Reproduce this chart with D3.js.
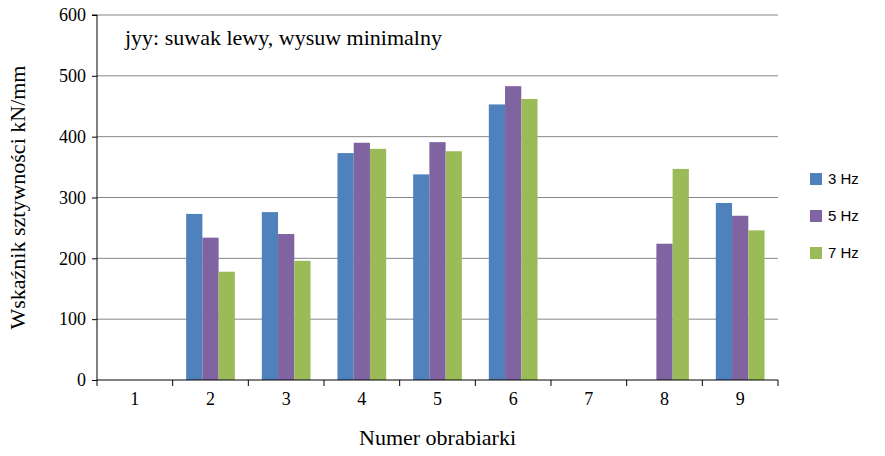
<!DOCTYPE html>
<html><head><meta charset="utf-8">
<script src="https://cdn.jsdelivr.net/npm/d3@7"></script>
<style>body{margin:0;background:#fff}</style></head>
<body><svg id="c" width="885" height="456"></svg>
<script>
const categories = ["1","2","3","4","5","6","7","8","9"];
const seriesNames = ["3 Hz","5 Hz","7 Hz"];
const hz3 = [0,273,276,373,338,453,0,0,291];
const hz5 = [0,234,240,390,391,483,0,224,270];
const hz7 = [0,178,196,380,376,462,0,347,246];
const yTicks = [0,100,200,300,400,500,600];
const colors = ["#4F81BD","#8064A2","#9BBB59"];
const series = [hz3,hz5,hz7];

const svg = d3.select("#c");
const L=97,R=778,T=15,B=380;
const x = d3.scaleBand().domain(categories).range([L,R]);
const xi = d3.scaleBand().domain([0,1,2]).range([0,x.bandwidth()]).paddingInner(0).paddingOuter(0.83);
const y = d3.scaleLinear().domain([0,600]).range([B,T]);

svg.append("g").selectAll("line").data(yTicks.slice(1)).join("line")
 .attr("x1",L).attr("x2",R).attr("y1",d=>y(d)).attr("y2",d=>y(d)).attr("stroke","#868686").attr("stroke-width",1);

series.forEach((s,si)=>{
 svg.append("g").selectAll("rect").data(s).join("rect")
  .attr("x",(d,i)=>x(categories[i])+xi(si)).attr("width",xi.bandwidth())
  .attr("y",d=>y(d)).attr("height",d=>B-y(d)).attr("fill",colors[si]);
});

const ya = svg.append("g").attr("transform",`translate(${L},0)`).call(d3.axisLeft(y).tickValues(yTicks).tickSize(5).tickPadding(6));
ya.selectAll("text").attr("font-family","Liberation Serif").attr("font-size",18).attr("fill","#000");
ya.select(".domain").attr("d",`M-5,${T}H0V${B}`).attr("stroke","#000");
ya.selectAll("line").attr("stroke","#000");

const xa = svg.append("g").attr("transform",`translate(0,${B})`).call(d3.axisBottom(x).tickSize(0).tickPadding(12));
xa.selectAll("text").attr("font-family","Liberation Serif").attr("font-size",18).attr("fill","#000");
xa.select(".domain").attr("d",`M${L},0H${R}`).attr("stroke","#000");
svg.append("g").selectAll("line").data(d3.range(10)).join("line")
 .attr("x1",d=>L+d*x.step()).attr("x2",d=>L+d*x.step()).attr("y1",B).attr("y2",B+6).attr("stroke","#000");

svg.append("text").attr("x",(L+R)/2).attr("y",445).attr("text-anchor","middle")
 .attr("font-family","Liberation Serif").attr("font-size",22).text("Numer obrabiarki");
svg.append("text").attr("transform",`translate(25,${(T+B)/2}) rotate(-90)`).attr("text-anchor","middle")
 .attr("font-family","Liberation Serif").attr("font-size",22).text("Wskaźnik sztywności  kN/mm");
svg.append("text").attr("x",125).attr("y",45).attr("font-family","Liberation Serif").attr("font-size",22).text("jyy: suwak lewy, wysuw minimalny");

const lg = svg.append("g").selectAll("g").data(seriesNames).join("g")
 .attr("transform",(d,i)=>`translate(810,${173+i*37})`);
lg.append("rect").attr("width",12).attr("height",12).attr("fill",(d,i)=>colors[i]);
lg.append("text").attr("x",18).attr("y",11).attr("font-family","Liberation Sans").attr("font-size",15).text(d=>d);
</script></body></html>
